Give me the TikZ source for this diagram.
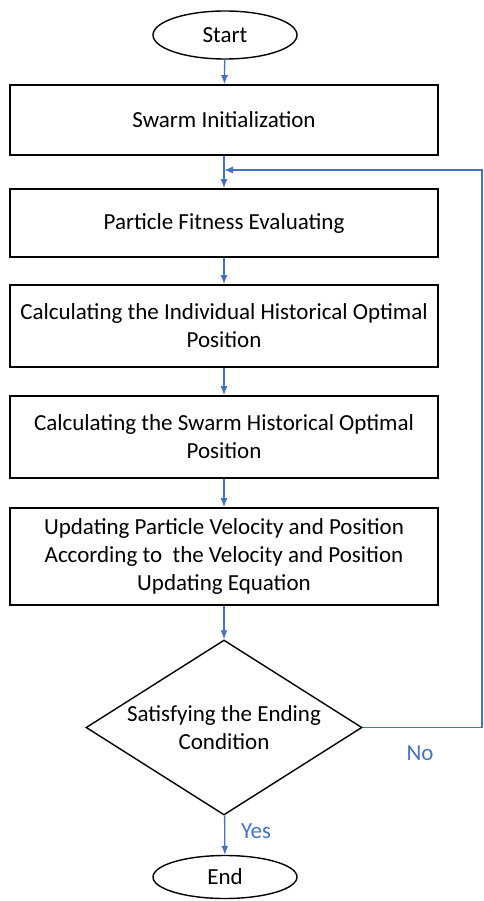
\documentclass[tikz,border=0pt]{standalone}
\usepackage{fontspec}
\setmainfont{Carlito}
\usetikzlibrary{shapes.geometric,arrows.meta}
\definecolor{flowblue}{RGB}{68,114,196}
\begin{document}
\begin{tikzpicture}[x=1pt, y=1pt, >={Latex[length=9pt,width=7pt]},
    every node/.style={font=\fontsize{23}{28}\selectfont},
    term/.style={draw, ellipse, line width=1.4pt, inner sep=0pt, minimum width=144pt},
    stepbox/.style={draw, rectangle, line width=1.6pt, align=center, minimum width=428pt, inner sep=0pt},
    choice/.style={draw, diamond, line width=1.4pt, minimum width=276pt, minimum height=175pt, inner sep=0pt},
    flow/.style={->, flowblue, line width=1.3pt},
    lbl/.style={text=flowblue}]
    \useasboundingbox (0,0) rectangle (483,-901);
    % flowchart of the swarm optimisation
    \node[term, minimum height=48pt] (start) at (225,-35) {Start};
    \node[stepbox, minimum height=70pt] (init) at (224,-120) {Swarm Initialization};
    \node[stepbox, minimum height=68pt] (fit) at (224,-223) {Particle Fitness Evaluating};
    \node[stepbox, minimum height=82pt] (pbest) at (224,-326) {Calculating the Individual Historical Optimal\\Position};
    \node[stepbox, minimum height=82pt] (gbest) at (224,-437) {Calculating the Swarm Historical Optimal\\Position};
    \node[stepbox, minimum height=97pt] (upd) at (224,-556.5) {Updating Particle Velocity and Position\\According to\ \ the Velocity and Position\\Updating Equation};
    \node[choice] (cond) at (224,-727.5) {};
    \node[align=center] (condtxt) at (224,-727.5) {Satisfying the Ending\\Condition};
    \node[term, minimum height=43pt] (end) at (225,-877) {End};
    \coordinate (join) at (224,-170);
    \coordinate (loop) at (482,-170);
    \node[lbl] (no) at (420,-753) {No};
    \node[lbl] (yes) at (256,-831) {Yes};

    \draw[flow] (start)--(init); \draw[flow] (init)--(fit); \draw[flow] (fit)--(pbest);
    \draw[flow] (pbest)--(gbest); \draw[flow] (gbest)--(upd); \draw[flow] (upd)--(cond);
    \draw[flow] (cond)--(end);
    \draw[flow] (cond.east) -| (loop) -- (join);
\end{tikzpicture}
\end{document}
